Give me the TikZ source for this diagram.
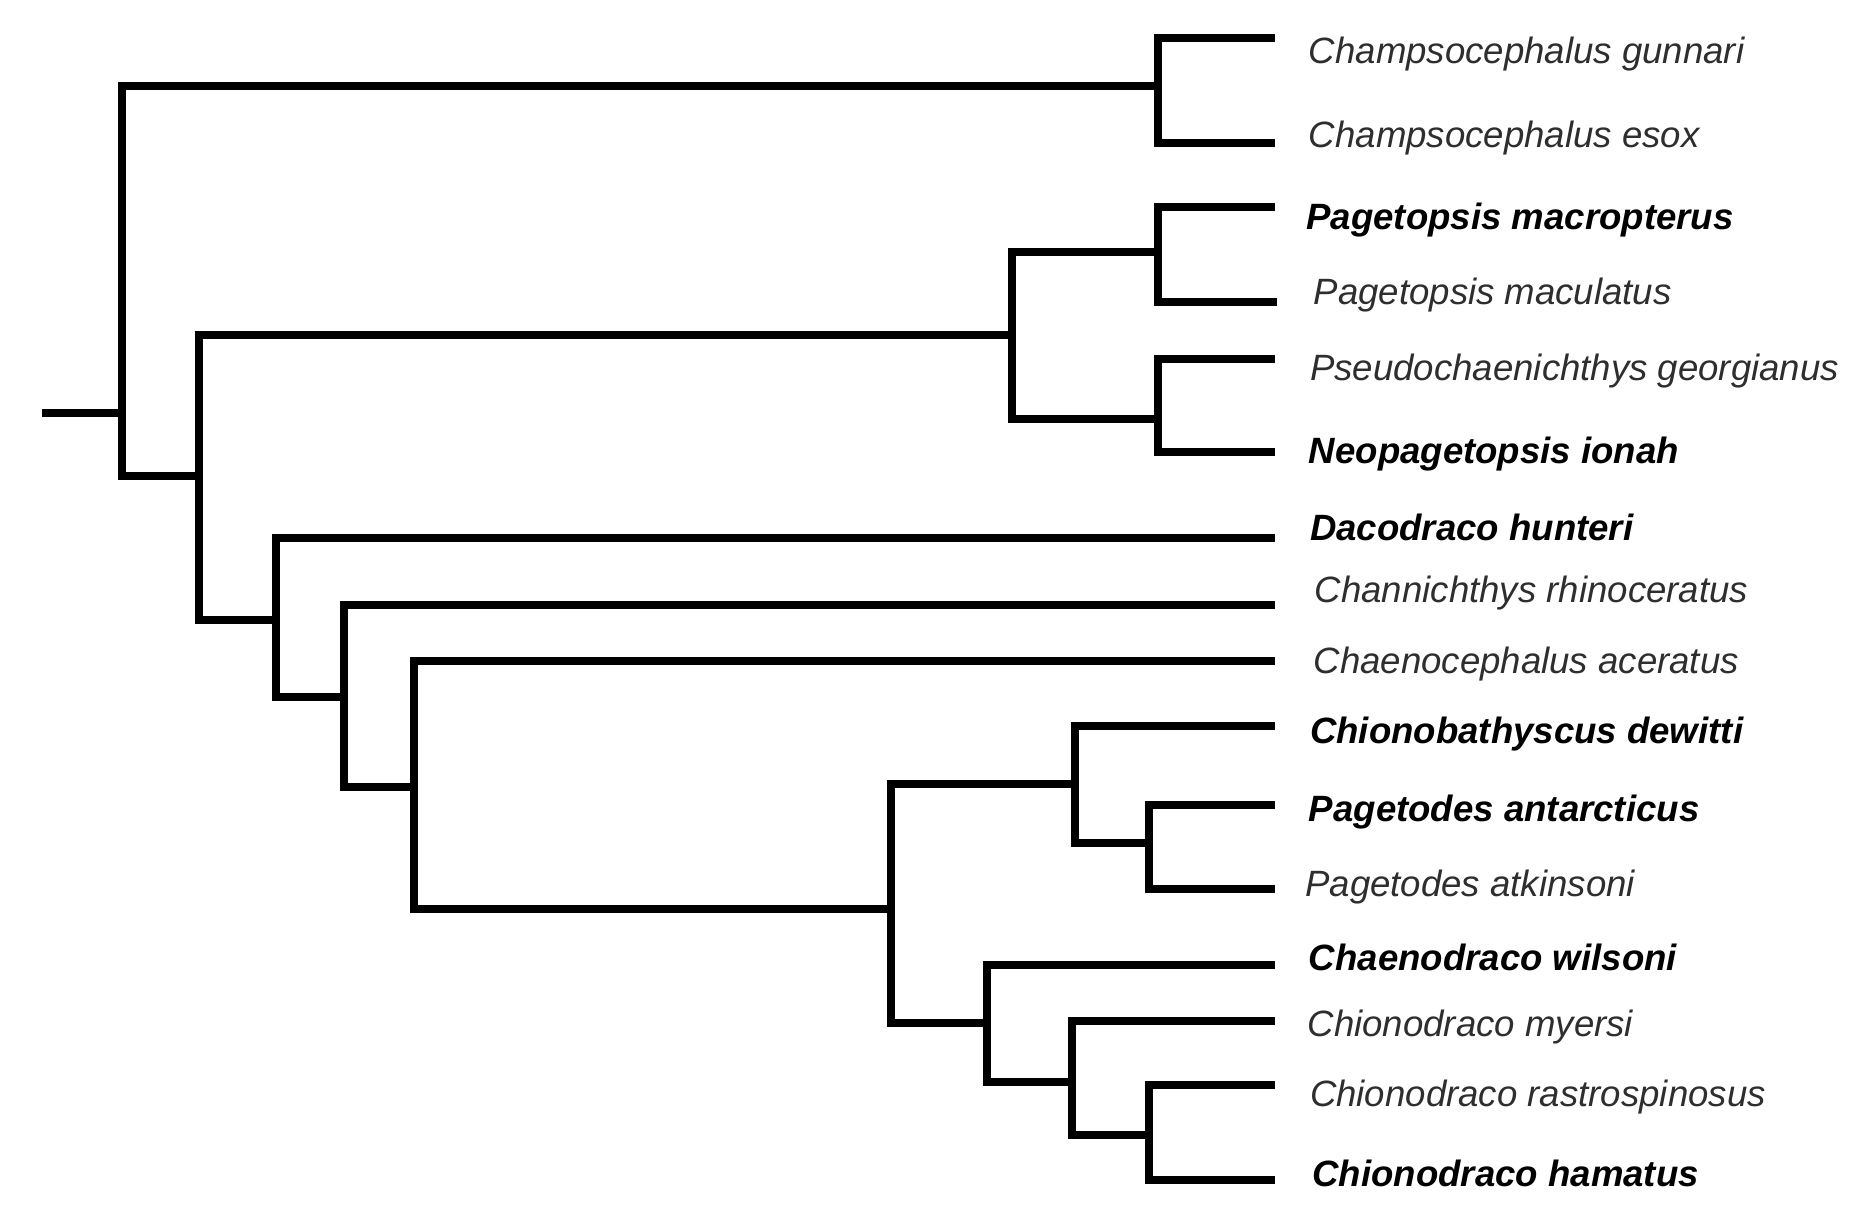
\documentclass[tikz,border=0pt]{standalone}
\usepackage{fontspec}
\setmainfont{Liberation Sans}
\definecolor{tipgray}{HTML}{2E2E2E}
\begin{document}
\begin{tikzpicture}[x=0.597pt,y=-0.597pt,
  br/.style={line width=4pt, line join=miter, line cap=butt},
  tip/.style={anchor=west, inner sep=0pt, font=\fontsize{18.3pt}{20pt}\selectfont\itshape, text=tipgray},
  btip/.style={tip, font=\fontsize{18.3pt}{20pt}\selectfont\itshape\bfseries, text=black}]
\useasboundingbox (0,0) rectangle (1568,1020);
% internal nodes
\coordinate (r) at (35,346);
\coordinate (n0) at (102,346);
\coordinate (c1) at (970,72);
\coordinate (n1) at (167,399);
\coordinate (pg) at (848,281);
\coordinate (p1) at (970,211);
\coordinate (p2) at (970,351);
\coordinate (n2) at (231,519);
\coordinate (n3) at (288,584);
\coordinate (n4) at (347,659);
\coordinate (n5) at (746,761);
\coordinate (n6) at (900,657);
\coordinate (n8) at (962,706);
\coordinate (n7) at (827,857);
\coordinate (n9) at (898,906);
\coordinate (n10) at (962,951);
% tip ends
\coordinate (e1) at (1068,32);
\coordinate (e2) at (1068,120);
\coordinate (e3) at (1068,173);
\coordinate (e4) at (1070,253);
\coordinate (e5) at (1068,301);
\coordinate (e6) at (1068,379);
\coordinate (e7) at (1068,451);
\coordinate (e8) at (1068,507);
\coordinate (e9) at (1068,554);
\coordinate (e10) at (1068,608);
\coordinate (e11) at (1068,674);
\coordinate (e12) at (1068,745);
\coordinate (e13) at (1068,808);
\coordinate (e14) at (1068,855);
\coordinate (e15) at (1068,909);
\coordinate (e16) at (1068,988);
% branches
\draw[br] (r) -- (n0);
\draw[br] (n0) |- (c1);
\draw[br] (n0) |- (n1);
\draw[br] (c1) |- (e1);
\draw[br] (c1) |- (e2);
\draw[br] (n1) |- (pg);
\draw[br] (n1) |- (n2);
\draw[br] (pg) |- (p1);
\draw[br] (pg) |- (p2);
\draw[br] (p1) |- (e3);
\draw[br] (p1) |- (e4);
\draw[br] (p2) |- (e5);
\draw[br] (p2) |- (e6);
\draw[br] (n2) |- (e7);
\draw[br] (n2) |- (n3);
\draw[br] (n3) |- (e8);
\draw[br] (n3) |- (n4);
\draw[br] (n4) |- (e9);
\draw[br] (n4) |- (n5);
\draw[br] (n5) |- (n6);
\draw[br] (n5) |- (n7);
\draw[br] (n6) |- (e10);
\draw[br] (n6) |- (n8);
\draw[br] (n8) |- (e11);
\draw[br] (n8) |- (e12);
\draw[br] (n7) |- (e13);
\draw[br] (n7) |- (n9);
\draw[br] (n9) |- (e14);
\draw[br] (n9) |- (n10);
\draw[br] (n10) |- (e15);
\draw[br] (n10) |- (e16);
% labels
\node[tip]  (l1)  at (1096,45)  {Champsocephalus gunnari};
\node[tip]  (l2)  at (1096,116) {Champsocephalus esox};
\node[btip] (l3)  at (1094,184) {Pagetopsis macropterus};
\node[tip]  (l4)  at (1100,247) {Pagetopsis maculatus};
\node[tip]  (l5)  at (1097,311) {Pseudochaenichthys georgianus};
\node[btip] (l6)  at (1096,380) {Neopagetopsis ionah};
\node[btip] (l7)  at (1097,442) {Dacodraco hunteri};
\node[tip]  (l8)  at (1101,497) {Channichthys rhinoceratus};
\node[tip]  (l9)  at (1100,556) {Chaenocephalus aceratus};
\node[btip] (l10) at (1097,615) {Chionobathyscus dewitti};
\node[btip] (l11) at (1096,680) {Pagetodes antarcticus};
\node[tip]  (l12) at (1093,743) {Pagetodes atkinsoni};
\node[btip] (l13) at (1096,802) {Chaenodraco wilsoni};
\node[tip]  (l14) at (1095,860) {Chionodraco myersi};
\node[tip]  (l15) at (1097,919) {Chionodraco rastrospinosus};
\node[btip] (l16) at (1099,983) {Chionodraco hamatus};
\end{tikzpicture}
\end{document}
